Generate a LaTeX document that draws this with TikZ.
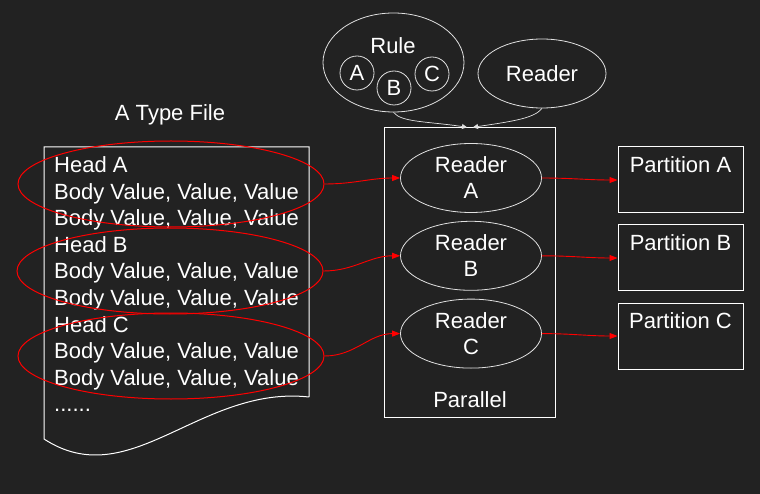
\documentclass[tikz,border=0pt]{standalone}
\usepackage{fontspec}
\setmainfont{Liberation Sans}
\usetikzlibrary{shapes.geometric,arrows.meta,positioning}
\definecolor{bgdark}{RGB}{34,34,34}
\definecolor{linegray}{RGB}{225,225,225}
\newcommand{\moredots}{......}

\begin{document}
\begin{tikzpicture}[x=1pt,y=-1pt,
	every node/.style={text=white,font=\fontsize{22}{26}\selectfont},
	oval/.style={ellipse,draw=linegray,line width=0.8pt,inner sep=0pt,align=center},
	token/.style={circle,draw=linegray,line width=0.8pt,inner sep=0pt,minimum size=34pt},
	part/.style={rectangle,draw=white,line width=1pt,minimum width=125pt,minimum height=66pt},
	group/.style={ellipse,draw=red,line width=1pt,minimum width=306pt,minimum height=86pt},
	redwire/.style={red,line width=0.9pt,-{Triangle[length=8pt,width=6pt]}},
	whitewire/.style={linegray,line width=0.7pt,-{Triangle[length=5pt,width=5pt]}}]
	\fill[bgdark] (0,0) rectangle (760,494);
	\useasboundingbox (0,0) rectangle (760,494);

	% the file
	\node[anchor=base] (title) at (170,121) {A Type File};
	\draw[white,line width=1pt] (309,397) -- (309,147) -- (44,147) -- (44,439)
		.. controls (130,495) and (200,385) .. (309,397);
	\foreach \txt [count=\i] in {Head A,{Body Value, Value, Value},{Body Value, Value, Value},
		Head B,{Body Value, Value, Value},{Body Value, Value, Value},
		Head C,{Body Value, Value, Value},{Body Value, Value, Value},\moredots}
		\node[anchor=base west,inner sep=0pt] (ln\i) at (54,{146.5+26.5*\i}) {\txt};
	\node[group] (ea) at (171,184) {};
	\node[group] (eb) at (170,271) {};
	\node[group] (ec) at (171,356) {};

	% rule and reader
	\node[oval,minimum width=141pt,minimum height=99pt] (rule) at (393.5,62.5) {};
	\node[anchor=base] (rulelbl) at (393,54) {Rule};
	\node[token] (ca) at (357,73) {A};
	\node[token] (cb) at (394,88) {B};
	\node[token] (cc) at (432,74) {C};
	\node[oval,minimum width=128pt,minimum height=69pt] (rdr) at (542,73.5) {Reader};

	% parallel readers
	\node[rectangle,draw=white,line width=1pt,minimum width=171.5pt,minimum height=289.5pt,
		label={[anchor=base,yshift=10pt]south:Parallel}] (par) at (470,272.5) {};
	\node[oval,minimum width=141pt,minimum height=69pt] (ra) at (471,178) {Reader\\A};
	\node[oval,minimum width=141pt,minimum height=69pt,below=8pt of ra] (rb) {Reader\\B};
	\node[oval,minimum width=141pt,minimum height=69pt,below=8pt of rb] (rc) {Reader\\C};

	% partitions
	\node[part,label={[anchor=base,yshift=-26pt]north:Partition A}] (pa) at (680.5,180) {};
	\node[part,below=11pt of pa,label={[anchor=base,yshift=-26pt]north:Partition B}] (pb) {};
	\node[part,below=11pt of pb,label={[anchor=base,yshift=-26pt]north:Partition C}] (pc) {};

	\draw[whitewire] (rule.south) .. controls +(8,10) and +(-40,-6) .. ([xshift=-3pt]par.north);
	\draw[whitewire] (rdr.south) .. controls +(-8,10) and +(40,-6) .. ([xshift=3pt]par.north);

	\draw[redwire] (ea.east) to[out=0,in=180] (ra.west);
	\draw[redwire] (eb.east) to[out=0,in=180] (rb.west);
	\draw[redwire] (ec.east) to[out=0,in=180] (rc.west);
	\draw[redwire] (ra.east) to[out=0,in=180] (pa.west);
	\draw[redwire] (rb.east) to[out=0,in=180] (pb.west);
	\draw[redwire] (rc.east) to[out=0,in=180] (pc.west);
\end{tikzpicture}
\end{document}
